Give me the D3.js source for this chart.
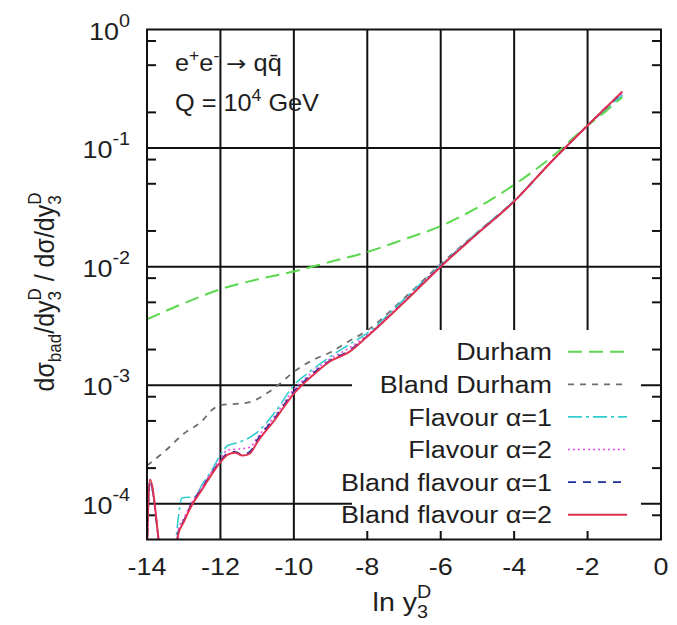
<!DOCTYPE html>
<html>
<head>
<meta charset="utf-8">
<script src="https://cdn.jsdelivr.net/npm/d3@7"></script>
<style>
  body { margin: 0; background: #fff; }
  text { font-family: "Liberation Sans", Arial, sans-serif; fill: #1e1e1e; }
</style>
</head>
<body>
<div id="chart"></div>
<script>
// tick values
const xTicks = [-14, -12, -10, -8, -6, -4, -2, 0];
const xGrid = [-12, -10, -8, -6, -4, -2];
const yDecades = [0, -1, -2, -3, -4];
const yMinorFactors = [2, 5, 8];

// legend labels
const seriesNames = ["Durham", "Bland Durham", "Flavour \u03b1=1", "Flavour \u03b1=2",
                     "Bland flavour \u03b1=1", "Bland flavour \u03b1=2"];

// [ln y3, ratio]
const durham = [[-14, 3.6e-3], [-13, 4.9e-3], [-12, 6.45e-3], [-11, 7.8e-3], [-10, 9.1e-3],
  [-9, 1.1e-2], [-8, 1.33e-2], [-7, 1.7e-2], [-6, 2.2e-2], [-5, 3.15e-2], [-4, 4.9e-2],
  [-3, 8.3e-2], [-2, 0.155], [-1.5, 0.205], [-1.05, 0.27]];

const blandDurham = [[-14, 2.1e-4], [-13.5, 2.8e-4], [-13, 3.9e-4], [-12.5, 5.0e-4], [-12.2, 6.3e-4],
  [-12, 6.8e-4], [-11.5, 7.0e-4], [-11.2, 7.2e-4], [-10.8, 8.3e-4], [-10.4, 1.02e-3], [-10, 1.3e-3],
  [-9.5, 1.62e-3], [-9, 1.9e-3], [-8.5, 2.35e-3], [-8, 2.9e-3], [-7, 5.4e-3], [-6, 1.05e-2],
  [-5, 1.95e-2], [-4, 3.6e-2], [-3, 7.6e-2], [-2, 0.155], [-1.5, 0.215], [-1.05, 0.285]];

const flavour1 = [[-14, 4e-5], [-13.92, 1.5e-4], [-13.55, 3e-5], [-13.3, 3e-5], [-13.15, 7.5e-5],
  [-13.05, 1.12e-4], [-12.7, 1.15e-4], [-12.5, 1.45e-4], [-12.2, 2.0e-4], [-12, 2.6e-4],
  [-11.8, 3.1e-4], [-11.5, 3.3e-4], [-11, 4.0e-4], [-10.5, 6.0e-4], [-10, 1.0e-3], [-9.5, 1.35e-3],
  [-9, 1.75e-3], [-8.5, 2.2e-3], [-8, 2.75e-3], [-7, 5.3e-3], [-6, 1.03e-2], [-5, 1.95e-2],
  [-4, 3.6e-2], [-3, 7.6e-2], [-2, 0.155], [-1.5, 0.215], [-1.05, 0.28]];

const flavour2 = [[-14, 4e-5], [-13.92, 1.5e-4], [-13.55, 3e-5], [-13.25, 3e-5], [-13.15, 6e-5],
  [-13, 7.5e-5], [-12.8, 1.0e-4], [-12.5, 1.4e-4], [-12.2, 1.95e-4], [-12, 2.4e-4], [-11.8, 2.85e-4],
  [-11.5, 2.9e-4], [-11.2, 3.0e-4], [-11, 3.6e-4], [-10.5, 5.6e-4], [-10, 9.2e-4], [-9.5, 1.28e-3],
  [-9, 1.68e-3], [-8.5, 2.05e-3], [-8, 2.65e-3], [-7, 5.1e-3], [-6, 1.02e-2], [-5, 1.92e-2],
  [-4, 3.58e-2], [-3, 7.6e-2], [-2, 0.155], [-1.5, 0.22], [-1.05, 0.29]];

const blandFlavour1 = [[-14, 4e-5], [-13.92, 1.55e-4], [-13.55, 3e-5], [-13.25, 3e-5], [-13.15, 5.8e-5],
  [-13, 7.2e-5], [-12.8, 9.8e-5], [-12.5, 1.36e-4], [-12.2, 1.9e-4], [-12, 2.3e-4], [-11.8, 2.68e-4],
  [-11.6, 2.75e-4], [-11.4, 2.6e-4], [-11.2, 2.75e-4], [-11, 3.45e-4], [-10.5, 5.4e-4], [-10, 8.8e-4],
  [-9.5, 1.24e-3], [-9, 1.63e-3], [-8.5, 1.95e-3], [-8, 2.6e-3], [-7, 5.05e-3], [-6, 1.01e-2],
  [-5, 1.9e-2], [-4, 3.55e-2], [-3, 7.6e-2], [-2, 0.155], [-1.5, 0.22], [-1.05, 0.295]];

const blandFlavour2 = [[-14, 4e-5], [-13.92, 1.6e-4], [-13.55, 3e-5], [-13.25, 3e-5], [-13.15, 5.5e-5],
  [-13, 7.0e-5], [-12.8, 9.5e-5], [-12.5, 1.32e-4], [-12.2, 1.85e-4], [-12, 2.25e-4], [-11.8, 2.6e-4],
  [-11.6, 2.7e-4], [-11.4, 2.55e-4], [-11.2, 2.65e-4], [-11, 3.3e-4], [-10.5, 5.2e-4], [-10, 8.5e-4],
  [-9.5, 1.2e-3], [-9, 1.6e-3], [-8.5, 1.9e-3], [-8, 2.57e-3], [-7, 5.0e-3], [-6, 1.0e-2],
  [-5, 1.9e-2], [-4, 3.55e-2], [-3, 7.6e-2], [-2, 0.155], [-1.5, 0.22], [-1.05, 0.30]];

const allSeries = [durham, blandDurham, flavour1, flavour2, blandFlavour1, blandFlavour2];
const colors = ["#5cd84e", "#6e6e6e", "#33cccc", "#e84ce8", "#1f2f9a", "#e0304f"];
const dashes = ["14,7", "6,6", "14,4,3,4", "2,3", "8,7", null];
const widths = [2, 1.8, 1.6, 1.6, 1.6, 2];

const W = 677, H = 625;
const margin = {top: 29.5, right: 16, bottom: 85.5, left: 147};
const SX = 1.1;      // the original lettering is a bit wide
const FS = 24.5;

const svg = d3.select("#chart").append("svg").attr("width", W).attr("height", H);

const x = d3.scaleLinear().domain([-14, 0]).range([margin.left, W - margin.right]);
const y = d3.scaleLog().domain([5e-5, 1]).range([H - margin.bottom, margin.top]);
const x0 = x.range()[0], x1 = x.range()[1], y0 = y.range()[0], y1 = y.range()[1];

function label(parent, px, py, anchor, size) {
  return parent.append("text")
    .attr("transform", "translate(" + px + "," + py + ") scale(" + SX + ",1)")
    .attr("text-anchor", anchor)
    .style("font-size", size + "px");
}

// grid
let grid = svg.append("g").attr("stroke", "#111").attr("stroke-width", 2);
xGrid.forEach(function(v){
  grid.append("line").attr("x1", x(v)).attr("x2", x(v)).attr("y1", y0).attr("y2", y1);
});
yDecades.slice(1).forEach(function(k){
  grid.append("line").attr("x1", x0).attr("x2", x1).attr("y1", y(Math.pow(10, k))).attr("y2", y(Math.pow(10, k)));
});

// minor ticks, left and right
let minor = [];
for (let k = -5; k < 0; k++) {
  yMinorFactors.forEach(function(m){
    let v = m * Math.pow(10, k);
    if (v > 5e-5 && v < 1) minor.push(v);
  });
}
minor.forEach(function(v){
  grid.append("line").attr("x1", x0).attr("x2", x0 + 9).attr("y1", y(v)).attr("y2", y(v));
  grid.append("line").attr("x1", x1).attr("x2", x1 - 9).attr("y1", y(v)).attr("y2", y(v));
});

// opaque key box, under the curves
const keyBox = {x: 352, y: 330, w: 289, h: 201};
svg.append("rect").attr("x", keyBox.x).attr("y", keyBox.y)
  .attr("width", keyBox.w).attr("height", keyBox.h).attr("fill", "#fff");

// curves
svg.append("clipPath").attr("id", "plotClip").append("rect")
  .attr("x", x0).attr("y", y1).attr("width", x1 - x0).attr("height", y0 - y1);

const line = d3.line()
  .x(function(d){ return x(d[0]); })
  .y(function(d){ return y(Math.max(d[1], 1e-6)); })
  .curve(d3.curveMonotoneX);

let curves = svg.append("g").attr("clip-path", "url(#plotClip)").attr("fill", "none");
allSeries.forEach(function(s, i){
  curves.append("path").datum(s)
    .attr("d", line)
    .attr("stroke", colors[i])
    .attr("stroke-width", widths[i])
    .attr("stroke-dasharray", dashes[i]);
});

// border
svg.append("rect").attr("x", x0).attr("y", y1).attr("width", x1 - x0).attr("height", y0 - y1)
  .attr("fill", "none").attr("stroke", "#111").attr("stroke-width", 2);

// x tick labels
xTicks.forEach(function(v){
  label(svg, x(v), 575, "middle", FS).text(v < 0 ? "-" + (-v) : "" + v);
});

// y tick labels
yDecades.forEach(function(k){
  let t = label(svg, 130, y(Math.pow(10, k)) + 10, "end", FS);
  t.append("tspan").text("10");
  t.append("tspan").attr("dy", -13).style("font-size", "18px").text(k === 0 ? "0" : "-" + (-k));
});

// legend
seriesNames.forEach(function(name, i){
  let ry = 351.7 + i * 32.6;
  label(svg, 552, ry + 8.7, "end", FS).text(name);
  svg.append("line").attr("x1", 568).attr("x2", 627).attr("y1", ry).attr("y2", ry)
    .attr("stroke", colors[i]).attr("stroke-width", widths[i])
    .attr("stroke-dasharray", dashes[i]);
});

// process annotation
let a1 = label(svg, 175, 71, "start", 23);
a1.append("tspan").text("e");
a1.append("tspan").attr("dy", -10).style("font-size", "16px").text("+");
a1.append("tspan").attr("dy", 10).text("e");
a1.append("tspan").attr("dy", -10).style("font-size", "16px").text("-");
a1.append("tspan").attr("dy", 10).text(" ");
a1.append("tspan").style("font-family", "'DejaVu Sans'").style("font-size", "22px").text("\u2192");
a1.append("tspan").text(" qq\u0304");

let a2 = label(svg, 175, 111, "start", 23);
a2.append("tspan").text("Q = 10");
a2.append("tspan").attr("dy", -10).style("font-size", "16px").text("4");
a2.append("tspan").attr("dy", 10).text(" GeV");

// x axis title
let xt = label(svg, 402, 611, "middle", 26);
xt.append("tspan").text("ln y");
xt.append("tspan").attr("dy", 7).style("font-size", "18px").text("3");
xt.append("tspan").attr("dx", -10).attr("dy", -20).style("font-size", "18px").text("D");

// y axis title (rotated)
let yt = svg.append("text")
  .attr("transform", "translate(54,292) rotate(-90) scale(1," + SX + ")")
  .attr("text-anchor", "middle")
  .style("font-size", "25px");
yt.append("tspan").text("d\u03c3");
yt.append("tspan").attr("dy", 6).style("font-size", "17px").text("bad");
yt.append("tspan").attr("dy", -6).text("/dy");
yt.append("tspan").attr("dy", 6).style("font-size", "17px").text("3");
yt.append("tspan").attr("dx", -9.5).attr("dy", -18).style("font-size", "17px").text("D");
yt.append("tspan").attr("dy", 12).text(" / d\u03c3/dy");
yt.append("tspan").attr("dy", 6).style("font-size", "17px").text("3");
yt.append("tspan").attr("dx", -9.5).attr("dy", -18).style("font-size", "17px").text("D");
</script>
</body>
</html>
